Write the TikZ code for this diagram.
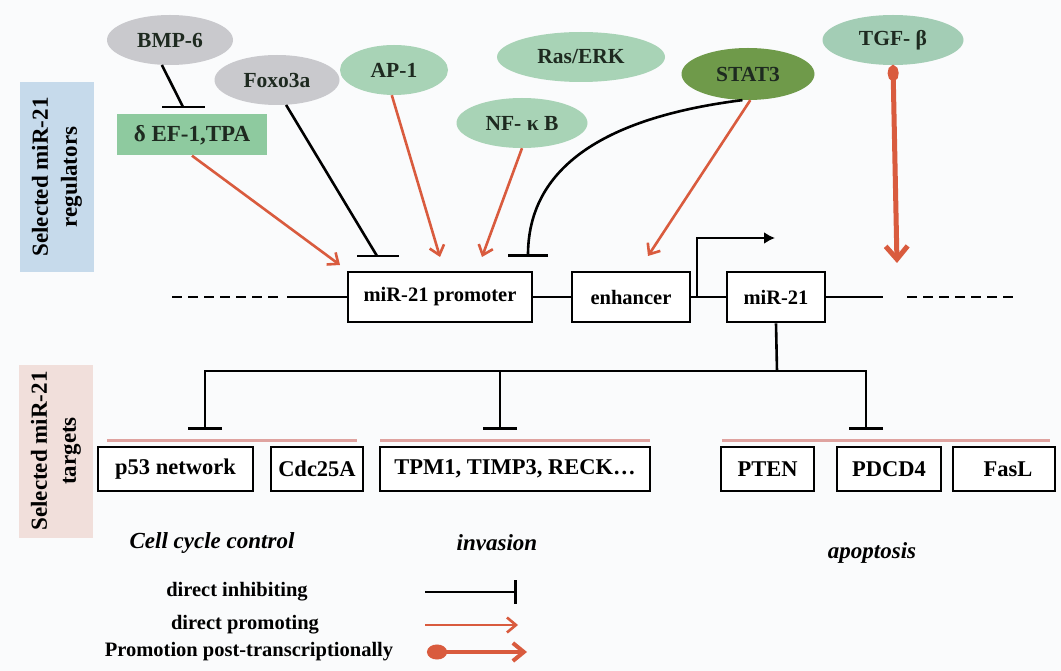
\documentclass[tikz,border=0pt]{standalone}
\usepackage{fontspec}
\setmainfont{Liberation Serif}
\usetikzlibrary{arrows.meta,shapes.geometric}
\definecolor{bg}{HTML}{FAFBFC}
\definecolor{bandblue}{HTML}{C6DAEB}
\definecolor{bandpink}{HTML}{F1DFDB}
\definecolor{grayell}{HTML}{C9C9CD}
\definecolor{greenell}{HTML}{A8D3B6}
\definecolor{tgfell}{HTML}{A3CDB5}
\definecolor{statc}{HTML}{6F9A4A}
\definecolor{defc}{HTML}{8ECA9F}
\definecolor{redc}{HTML}{D95B3E}
\definecolor{sepc}{HTML}{DFA3A0}
\definecolor{txt}{HTML}{1E2A20}
\begin{document}
\begin{tikzpicture}[x=1pt,y=-1pt,
  ell/.style={ellipse, inner sep=0pt, minimum height=50pt, text=txt, font=\fontsize{21.5}{25}\selectfont\bfseries},
  gene/.style={draw=black, line width=2.6pt, fill=white, inner sep=0pt, minimum height=50pt, font=\fontsize{20.5}{24}\selectfont\bfseries},
  target/.style={draw=black, line width=2.6pt, fill=white, inner sep=0pt, minimum height=44pt, font=\fontsize{22.5}{26}\selectfont\bfseries},
  band/.style={rotate=90, align=center, inner sep=0pt, minimum height=74pt, font=\fontsize{23}{29}\selectfont\bfseries},
  inh/.style={draw=black, line width=2.6pt},
  prom/.style={draw=redc, line width=2.6pt, -{Straight Barb[length=9pt,width=15pt]}},
  sep/.style={draw=sepc, line width=3pt},
  lab/.style={font=\fontsize{23}{27}\selectfont\bfseries\itshape},
  leg/.style={font=\fontsize{20.5}{24}\selectfont\bfseries},
]
\useasboundingbox (0,0) rectangle (1061,671);
\fill[bg] (0,0) rectangle (1061,671);

% side bands
\node[band, fill=bandblue, minimum width=190pt] (bandreg) at (57,177) {Selected miR-21\\regulators};
\node[band, fill=bandpink, minimum width=173pt] (bandtar) at (56,451) {Selected miR-21\\targets};

% coordinates for connector ends
\coordinate (bmpbar) at (183,107);
\coordinate (foxbar) at (377,256);
\coordinate (defend) at (340,265);
\coordinate (apend) at (440,257);
\coordinate (nfend) at (482,257);
\coordinate (s3bar) at (528,257);
\coordinate (s3end) at (648,256);
\coordinate (tgfend) at (897,263);

% regulators
\node[ell, fill=grayell, minimum width=126pt] (bmp) at (170,40) {BMP-6};
\node[ell, fill=grayell, minimum width=125pt] (foxo) at (277,80) {Foxo3a};
\node[ell, fill=greenell, minimum width=108pt] (ap1) at (394,70) {AP-1};
\node[ell, fill=greenell, minimum width=168pt] (ras) at (581,57) {Ras/ERK};
\node[ell, fill=greenell, minimum width=131pt] (nfkb) at (522,123) {NF- κ B};
\node[ell, fill=statc, minimum width=133pt, minimum height=52pt] (stat3) at (748,74) {STAT3};
\node[ell, fill=tgfell, minimum width=141pt] (tgf) at (893,40) {TGF- β};
\node[fill=defc, inner sep=0pt, minimum width=150pt, minimum height=41pt, text=txt, font=\fontsize{23}{27}\selectfont\bfseries] (def) at (192,135) {δ EF-1,TPA};

% inhibition connectors
\draw[inh] (bmp.252) -- (bmpbar);
\draw[inh] ([xshift=-21pt]bmpbar) -- ([xshift=22pt]bmpbar);
\draw[inh] (foxo.290) -- (foxbar);
\draw[inh] ([xshift=-20pt]foxbar) -- ([xshift=22pt]foxbar);
\draw[inh, -{Bar[width=40pt]}] (stat3.258) .. controls (600,118) and (528,170) .. (s3bar);

% promoting connectors
\draw[prom] (def.south) -- (defend);
\draw[prom] (ap1.265) -- (apend);
\draw[prom] (nfkb.south) -- (nfend);
\draw[prom] (stat3.275) -- (s3end);
\draw[draw=redc, line width=5pt, {Circle[length=16pt,width=11pt]}-{Straight Barb[length=13pt,width=22pt]}] (tgf.south) -- (tgfend);

% gene line
\coordinate (ld0) at (172,297);
\coordinate (ld1) at (280,297);
\coordinate (ls0) at (287,297);
\coordinate (rs1) at (883,297);
\coordinate (rd0) at (907,297);
\coordinate (rd1) at (1015,297);
\node[gene, minimum width=184pt] (prm) at (440,297) {miR-21 promoter};
\node[gene, minimum width=118pt] (enh) at (631,297) {enhancer};
\node[gene, minimum width=98pt] (mir) at (776,297) {miR-21};
\draw[line width=2.6pt, dash pattern=on 10pt off 6pt] (ld0) -- (ld1);
\draw[inh] (ls0) -- (prm.west);
\draw[inh] (prm.east) -- (enh.west);
\draw[inh] (enh.east) -- (mir.west);
\draw[inh] (mir.east) -- (rs1);
\draw[line width=2.6pt, dash pattern=on 10pt off 6pt] (rd0) -- (rd1);
\coordinate (tss) at (697,297);
\coordinate (tssend) at (775,238);
\draw[inh, -{Latex[length=11pt,width=12pt]}] (tss) |- (tssend);

% targets
\node[target, minimum width=155pt] (p53) at (175.5,469) {p53 network};
\node[target, minimum width=92pt] (cdc) at (317,469) {Cdc25A};
\node[target, minimum width=270pt] (tpm) at (515,469) {TPM1, TIMP3, RECK…};
\node[target, minimum width=93pt] (pten) at (767.5,469) {PTEN};
\node[target, minimum width=104pt] (pdcd) at (889,469) {PDCD4};
\node[target, minimum width=102pt] (fasl) at (1004,469) {\hspace{8pt}FasL};

\draw[sep] (107,440) -- (357,440);
\draw[sep] (380,440) -- (650,440);
\draw[sep] (722,440) -- (1050,440);

\coordinate (j0) at (777,371);
\coordinate (j1) at (205,371);
\coordinate (j2) at (500,371);
\coordinate (j3) at (866,371);
\coordinate (b1) at (205,430);
\coordinate (b2) at (500,430);
\coordinate (b3) at (866,430);
\draw[inh] (mir.south) -- (j0);
\draw[inh, -{Bar[width=34pt]}] (j0) -- (j1) -- (b1);
\draw[inh, -{Bar[width=34pt]}] (j2) -- (b2);
\draw[inh, -{Bar[width=34pt]}] (j0) -- (j3) -- (b3);

% category labels
\node[lab] (cell) at (212,543) {Cell cycle control};
\node[lab] (inv) at (497,543) {invasion};
\node[lab] (apo) at (872,553) {apoptosis};

% legend
\node[leg] (l1) at (237,592) {direct inhibiting};
\node[leg] (l2) at (245,625) {direct promoting};
\node[leg] (l3) at (249,652) {Promotion post-transcriptionally};
\coordinate (l1a) at (425,592);
\coordinate (l1b) at (517,592);
\coordinate (l2a) at (425,625);
\coordinate (l2b) at (518,625);
\coordinate (l3a) at (427,652);
\coordinate (l3b) at (527,652);
\draw[inh, -{Bar[width=24pt]}] (l1a) -- (l1b);
\draw[prom] (l2a) -- (l2b);
\draw[draw=redc, line width=4pt, {Circle[length=20pt,width=15pt]}-{Straight Barb[length=11pt,width=18pt]}] (l3a) -- (l3b);
\end{tikzpicture}
\end{document}
